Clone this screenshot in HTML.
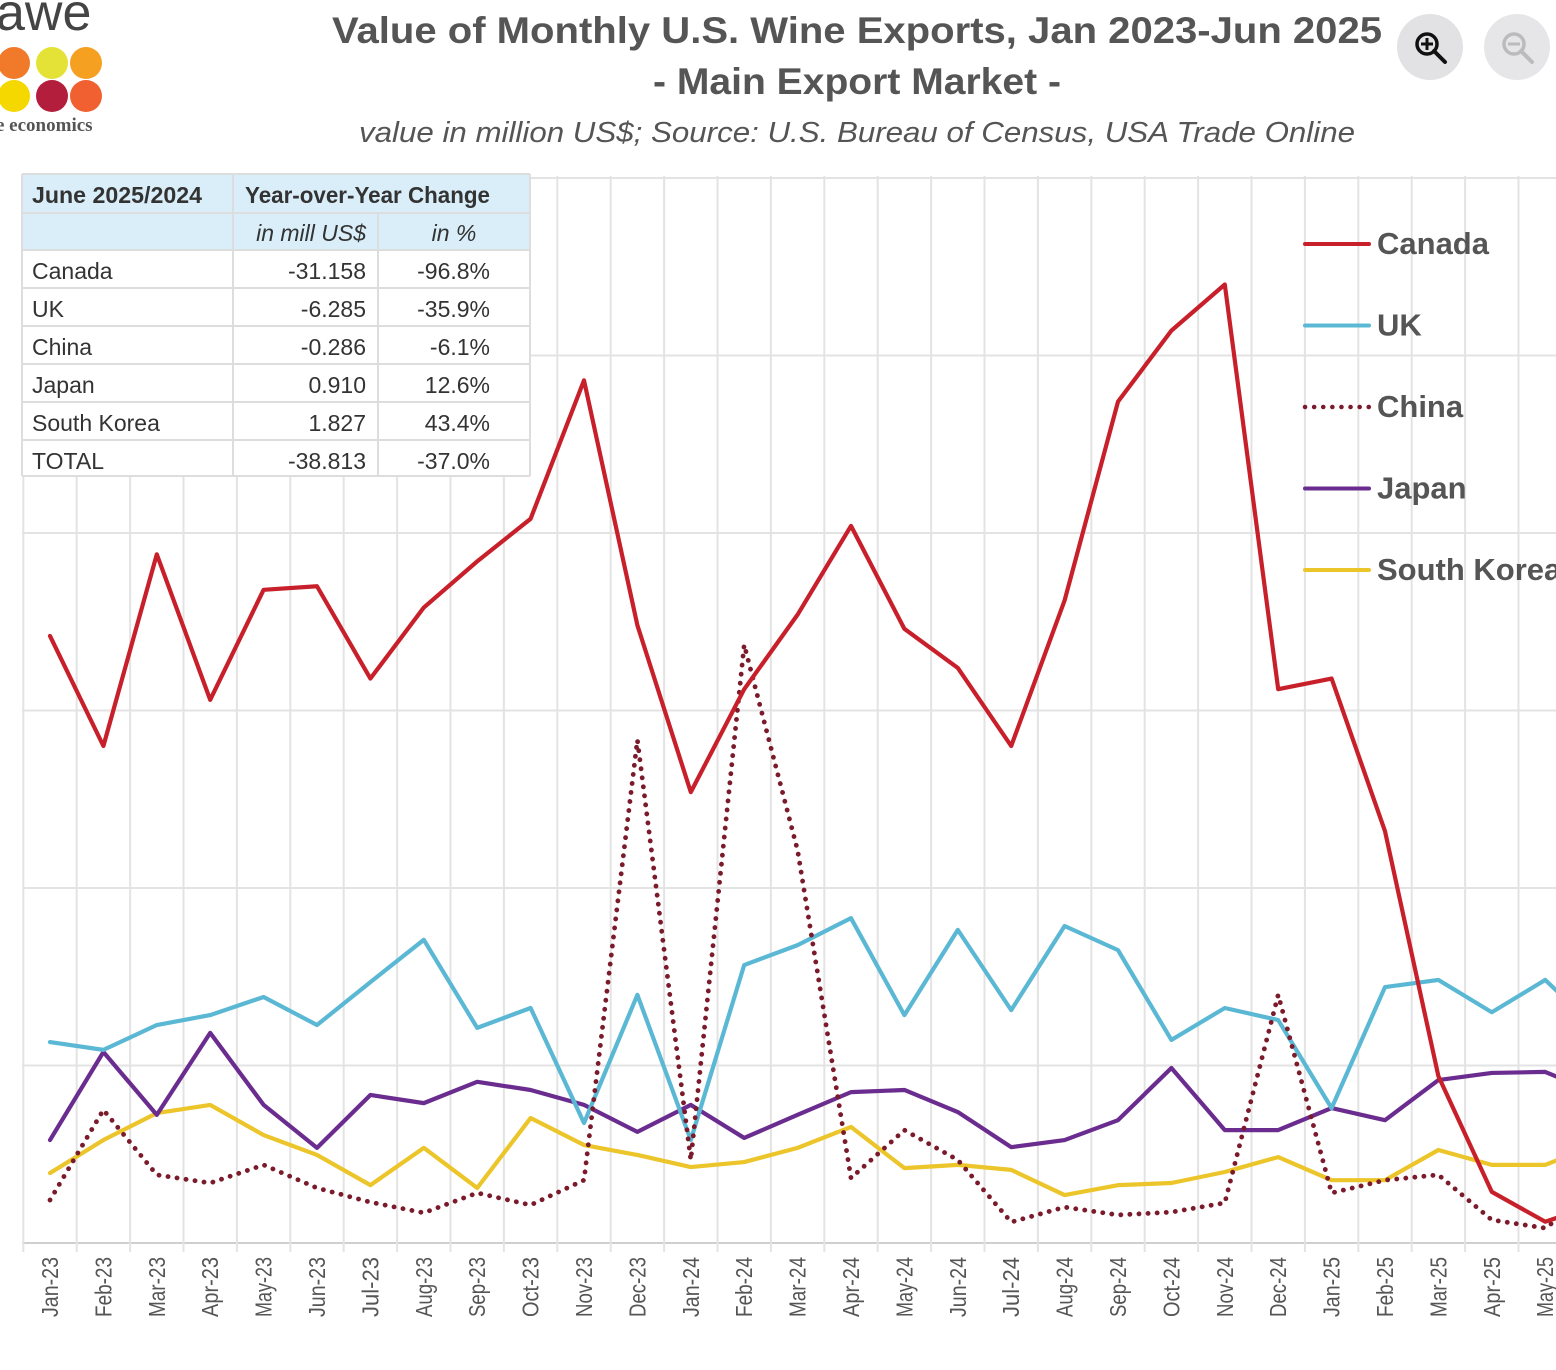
<!DOCTYPE html>
<html><head><meta charset="utf-8"><style>
html,body{margin:0;padding:0;background:#fff;}
svg{display:block;font-family:"Liberation Sans",sans-serif;}
</style></head><body>
<svg id="chart" width="1556" height="1370" viewBox="0 0 1556 1370" xmlns="http://www.w3.org/2000/svg">
<g>
<text x="-4" y="30" font-size="52" fill="#444">awe</text>
<circle cx="14" cy="63" r="16" fill="#f07a2a"/><circle cx="52" cy="63" r="16" fill="#e4e236"/><circle cx="86" cy="63" r="16" fill="#f5a020"/>
<circle cx="14" cy="96" r="16" fill="#f5d800"/><circle cx="52" cy="96" r="16" fill="#b31e3c"/><circle cx="86" cy="96" r="16" fill="#f06030"/>
<text x="-4" y="131" font-size="19" font-family="Liberation Serif,serif" font-weight="bold" fill="#555">e economics</text>
</g>
<text x="857" y="43" text-anchor="middle" font-size="37" font-weight="bold" fill="#555" textLength="1050" lengthAdjust="spacingAndGlyphs">Value of Monthly U.S. Wine Exports, Jan 2023-Jun 2025</text>
<text x="857" y="94" text-anchor="middle" font-size="37" font-weight="bold" fill="#555" textLength="408" lengthAdjust="spacingAndGlyphs">- Main Export Market -</text>
<text x="857" y="142" text-anchor="middle" font-size="29" font-style="italic" fill="#555" textLength="996" lengthAdjust="spacingAndGlyphs">value in million US$; Source: U.S. Bureau of Census, USA Trade Online</text>
<g><circle cx="1430" cy="47" r="33" fill="#e2e2e4"/><circle cx="1427" cy="44" r="10" fill="none" stroke="#111" stroke-width="3.5"/><line x1="1434" y1="51" x2="1445" y2="62" stroke="#111" stroke-width="4" stroke-linecap="round"/><line x1="1421" y1="44" x2="1433" y2="44" stroke="#111" stroke-width="3"/><line x1="1427" y1="38" x2="1427" y2="50" stroke="#111" stroke-width="3"/></g>
<g><circle cx="1517" cy="47" r="33" fill="#e6e6e8"/><circle cx="1514" cy="44" r="10" fill="none" stroke="#bbb" stroke-width="3.5"/><line x1="1521" y1="51" x2="1532" y2="62" stroke="#bbb" stroke-width="4" stroke-linecap="round"/><line x1="1508" y1="44" x2="1520" y2="44" stroke="#bbb" stroke-width="3"/></g>
<g id="plot"></g>
<g id="table"></g>
<g id="legend"></g>
</svg>
<script>
const months=["Jan-23","Feb-23","Mar-23","Apr-23","May-23","Jun-23","Jul-23","Aug-23","Sep-23","Oct-23","Nov-23","Dec-23","Jan-24","Feb-24","Mar-24","Apr-24","May-24","Jun-24","Jul-24","Aug-24","Sep-24","Oct-24","Nov-24","Dec-24","Jan-25","Feb-25","Mar-25","Apr-25","May-25","Jun-25"];
const canada=[17.1,14.0,19.4,15.3,18.4,18.5,15.9,17.9,19.2,20.4,24.3,17.4,12.7,15.6,17.7,20.2,17.3,16.2,14.0,18.1,23.7,25.7,27.0,15.6,15.9,11.6,4.7,1.44,0.6,1.1];
const uk=[5.66,5.44,6.14,6.42,6.93,6.14,7.35,8.54,6.06,6.62,3.38,6.99,2.9,7.83,8.39,9.15,6.42,8.82,6.56,8.93,8.25,5.72,6.62,6.28,3.8,7.21,7.41,6.5,7.41,6.0];
const china=[1.21,3.75,1.92,1.69,2.2,1.55,1.15,0.85,1.41,1.07,1.77,14.17,2.34,16.85,11.06,1.83,3.18,2.34,0.59,1.01,0.79,0.87,1.13,6.99,1.41,1.77,1.92,0.65,0.42,1.5];
const japan=[2.9,5.38,3.61,5.92,3.89,2.68,4.17,3.94,4.54,4.31,3.89,3.13,3.89,2.96,3.61,4.25,4.31,3.69,2.7,2.9,3.46,4.93,3.18,3.18,3.8,3.46,4.59,4.79,4.82,4.2];
const korea=[1.97,2.9,3.66,3.89,3.04,2.48,1.63,2.68,1.55,3.52,2.76,2.48,2.14,2.28,2.68,3.27,2.11,2.2,2.06,1.35,1.63,1.69,2.0,2.42,1.77,1.77,2.62,2.2,2.2,2.8];
const yTicks=[0,5,10,15,20,25,30];
const seriesNames=["Canada","UK","China","Japan","South Korea"];
const tableRows=[["Canada","-31.158","-96.8%"],["UK","-6.285","-35.9%"],["China","-0.286","-6.1%"],["Japan","0.910","12.6%"],["South Korea","1.827","43.4%"],["TOTAL","-38.813","-37.0%"]];

const NS="http://www.w3.org/2000/svg";
const x=i=>50+53.4*i;
const y=v=>1243-v*35.5;
function mk(tag,attrs,parent,text){const e=document.createElementNS(NS,tag);for(const k in attrs)e.setAttribute(k,attrs[k]);if(text!==undefined)e.textContent=text;parent.appendChild(e);return e;}
const plot=document.getElementById('plot');
const defs=mk('defs',{},plot);const cp=mk('clipPath',{id:'cl'},defs);mk('rect',{x:22,y:170,width:1534,height:1100},cp);
yTicks.forEach(t=>{const l=mk('line',{x1:22,x2:1556,y1:y(t),y2:y(t),stroke:t===0?'#cfcfcf':'#e3e3e3','stroke-width':2},plot);

});
months.forEach((m,i)=>{const gx=x(i)-26.7;if(gx>1556)return;const l=mk('line',{x1:gx,x2:gx,y1:y(yTicks[yTicks.length-1])-2,y2:1252,stroke:'#e3e3e3','stroke-width':2},plot);


if(x(i)<1556){const t=mk('text',{transform:`translate(${x(i)+8},1257) rotate(-90)`,'text-anchor':'end','font-size':23,fill:'#555',textLength:60,lengthAdjust:'spacingAndGlyphs'},plot,m);

}});
const g=mk('g',{'clip-path':'url(#cl)'},plot);
function line(arr,color,name,dash){const p=mk('polyline',{points:arr.map((v,i)=>x(i)+','+y(v)).join(' '),fill:'none',stroke:color,'stroke-width':dash?4.8:4.2,'stroke-linejoin':'round','stroke-linecap':'round'},g);
if(dash){p.setAttribute('stroke-dasharray','0.1 9');}

}
line(korea,'#ecc52a','line-south-korea');
line(japan,'#6a2c8e','line-japan');
line(uk,'#5bb8d4','line-uk');
line(china,'#7a1a2a','line-china',true);
line(canada,'#c8202a','line-canada');
const lg=document.getElementById('legend');
const lc=['#c8202a','#5bb8d4','#7a1a2a','#6a2c8e','#ecc52a'];
seriesNames.forEach((n,i)=>{const ly=244+i*81.5;
const l=mk('line',{x1:1305,x2:1369,y1:ly,y2:ly,stroke:lc[i],'stroke-width':i===2?4.5:4,'stroke-linecap':'round'},lg);
if(i===2)l.setAttribute('stroke-dasharray','0.1 9');


const t=mk('text',{x:1377,y:ly+10,'font-size':31,'font-weight':'bold',fill:'#555'},lg,n);

});
const tb=document.getElementById('table');
mk('rect',{x:22,y:174,width:508,height:302,fill:'#fff'},tb);
mk('rect',{x:22,y:174,width:508,height:76,fill:'#d9eef9'},tb);
const rowY=[174,213,250,288,326,364,402,440,476];
rowY.forEach(r=>mk('line',{x1:22,x2:530,y1:r,y2:r,stroke:'#ddd','stroke-width':2},tb));
[22,530].forEach(cx=>mk('line',{x1:cx,x2:cx,y1:174,y2:476,stroke:'#ddd','stroke-width':2},tb));
mk('line',{x1:233,x2:233,y1:174,y2:476,stroke:'#ddd','stroke-width':2},tb);
mk('line',{x1:378,x2:378,y1:213,y2:476,stroke:'#ddd','stroke-width':2},tb);
const h1=mk('text',{x:32,y:203,'font-size':23,'font-weight':'bold',fill:'#333',textLength:170,lengthAdjust:'spacingAndGlyphs'},tb,'June 2025/2024');


const h2=mk('text',{x:245,y:203,'font-size':23,'font-weight':'bold',fill:'#333',textLength:245,lengthAdjust:'spacingAndGlyphs'},tb,'Year-over-Year Change');


mk('text',{x:366,y:241,'text-anchor':'end','font-size':23,'font-style':'italic',fill:'#333'},tb,'in mill US$');
mk('text',{x:454,y:241,'text-anchor':'middle','font-size':23,'font-style':'italic',fill:'#333'},tb,'in %');
tableRows.forEach((r,i)=>{const ty=279+i*38;
const a=mk('text',{x:32,y:ty,'font-size':23,fill:'#333'},tb,r[0]);


mk('text',{x:366,y:ty,'text-anchor':'end','font-size':23,fill:'#333'},tb,r[1]);
mk('text',{x:490,y:ty,'text-anchor':'end','font-size':23,fill:'#333'},tb,r[2]);});
</script>
</body></html>
